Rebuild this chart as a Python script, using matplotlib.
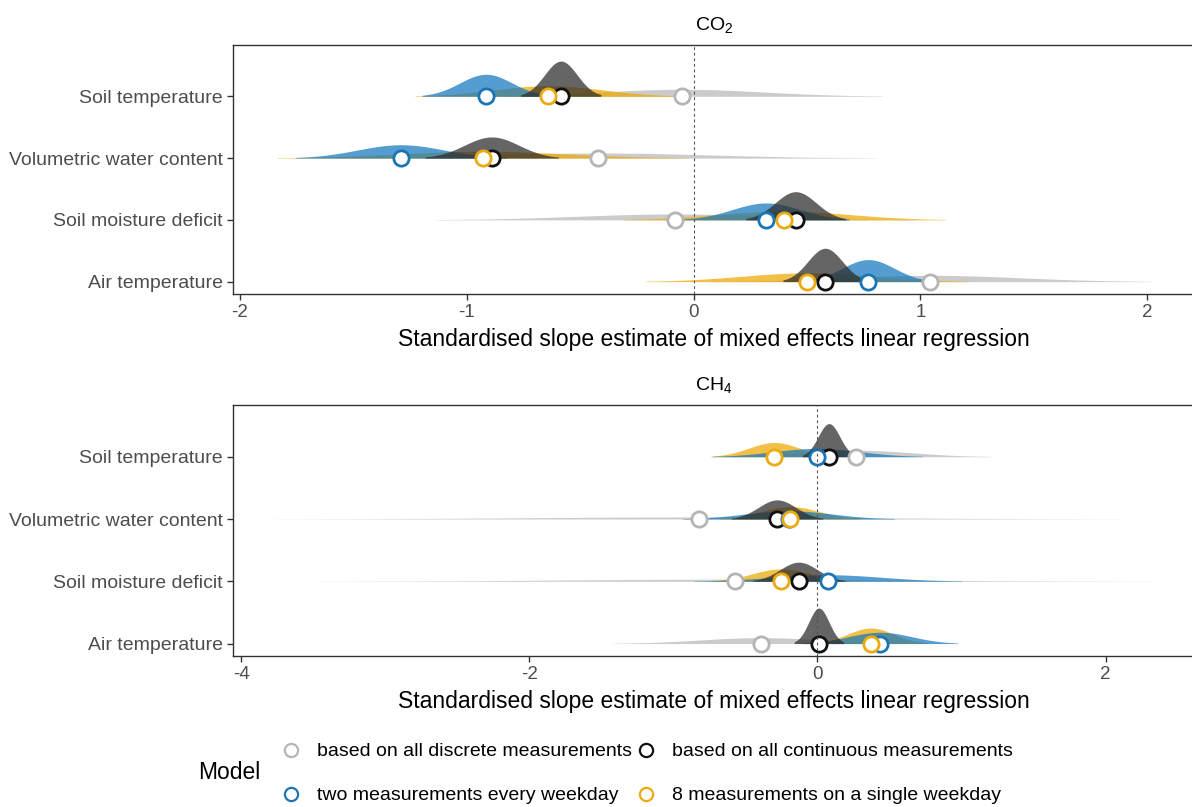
import numpy as np
import matplotlib
matplotlib.use('Agg')
import matplotlib.pyplot as plt
from matplotlib.lines import Line2D

plt.rcParams['font.family'] = ['Liberation Sans', 'DejaVu Sans']
plt.rcParams['mathtext.fontset'] = 'custom'
plt.rcParams['mathtext.rm'] = 'Liberation Sans'
plt.rcParams['mathtext.default'] = 'regular'
plt.rcParams['axes.unicode_minus'] = False

predictors = ['Soil temperature', 'Volumetric water content',
              'Soil moisture deficit', 'Air temperature']
models = ['based on all discrete measurements', 'based on all continuous measurements',
          'two measurements every weekday', '8 measurements on a single weekday']
ring_colors = ['#B5B5B5', '#111111', '#1A75B4', '#EBAA10']
fill_colors = ['#B8B8B8', '#2A2A2A', '#1478BE', '#EFA800']

# slope estimates, one list per model, rows follow `predictors`
co2_est = [[-0.05, -0.42, -0.08, 1.04],
           [-0.585, -0.89, 0.45, 0.58],
           [-0.915, -1.29, 0.32, 0.77],
           [-0.64, -0.93, 0.40, 0.50]]
co2_se = [[0.36, 0.50, 0.43, 0.40],
          [0.072, 0.12, 0.09, 0.076],
          [0.115, 0.19, 0.15, 0.115],
          [0.24, 0.37, 0.29, 0.29]]

ch4_est = [[0.27, -0.82, -0.57, -0.39],
           [0.08, -0.28, -0.13, 0.01],
           [-0.005, -0.20, 0.07, 0.435],
           [-0.30, -0.19, -0.25, 0.37]]
ch4_se = [[0.38, 1.20, 1.18, 0.42],
          [0.075, 0.13, 0.13, 0.07],
          [0.30, 0.30, 0.38, 0.22],
          [0.175, 0.20, 0.20, 0.16]]

co2_ticks = [-2, -1, 0, 1, 2]
ch4_ticks = [-4, -2, 0, 2]


def draw_panel(ax, est, se, ticks, xlim, title):
    ypos = np.arange(len(predictors), 0, -1)
    top = max(1.0 / s for row in se for s in row)
    k = 0.57 / top
    # slabs: grey first, then yellow, blue, black on top
    for m in [0, 3, 2, 1]:
        for i, y in enumerate(ypos):
            mu, sd = est[m][i], se[m][i]
            x = np.linspace(mu - 2.45 * sd, mu + 2.45 * sd, 400)
            h = k / sd * np.exp(-0.5 * ((x - mu) / sd) ** 2)
            ax.fill_between(x, y, y + h, color=fill_colors[m], alpha=0.72, lw=0, zorder=2)
    for m in range(4):
        ax.plot(est[m], ypos, 'o', ms=11, mfc='white', mec=ring_colors[m], mew=2.0,
                zorder=5, clip_on=False)
    ax.axvline(0, ls=(0, (2.5, 2.5)), color='#555555', lw=0.8, zorder=6)
    ax.set_xlim(xlim)
    ax.set_ylim(0.8, 4.83)
    ax.set_yticks(ypos)
    ax.set_yticklabels(predictors)
    ax.set_xticks(ticks)
    ax.set_xticklabels([str(t) for t in ticks])
    ax.tick_params(colors='#333333', labelcolor='#4D4D4D', labelsize=13.5, length=4, width=1)
    ax.tick_params(axis='y', labelsize=14)
    for s in ax.spines.values():
        s.set_color('#333333')
        s.set_linewidth(1)
    ax.set_xlabel('Standardised slope estimate of mixed effects linear regression',
                  fontsize=16.5, labelpad=5)
    ax.set_title(title, fontsize=14, pad=11)


fig = plt.figure(figsize=(11.92, 8.07), dpi=100)
ax1 = fig.add_axes([0.1955, 0.6357, 0.807, 0.3085])
ax2 = fig.add_axes([0.1955, 0.1871, 0.807, 0.311])

draw_panel(ax1, co2_est, co2_se, co2_ticks, (-2.03, 2.21), 'CO$_2$')
draw_panel(ax2, ch4_est, ch4_se, ch4_ticks, (-4.056, 2.62), 'CH$_4$')

handles = [Line2D([], [], ls='none', marker='o', ms=9.5, mfc='white',
                  mec=ring_colors[m], mew=1.6) for m in range(4)]
order = [0, 2, 1, 3]
fig.legend([handles[i] for i in order], [models[i] for i in order], ncol=2,
           loc='center left', bbox_to_anchor=(0.2357, 0.0414), frameon=False,
           fontsize=14, handlelength=1.0, handletextpad=0.85, columnspacing=0.2,
           labelspacing=1.35, borderpad=0, borderaxespad=0)
fig.text(0.166, 0.0424, 'Model', fontsize=16.5, va='center', ha='left')

fig.savefig('out.png', dpi=100)
